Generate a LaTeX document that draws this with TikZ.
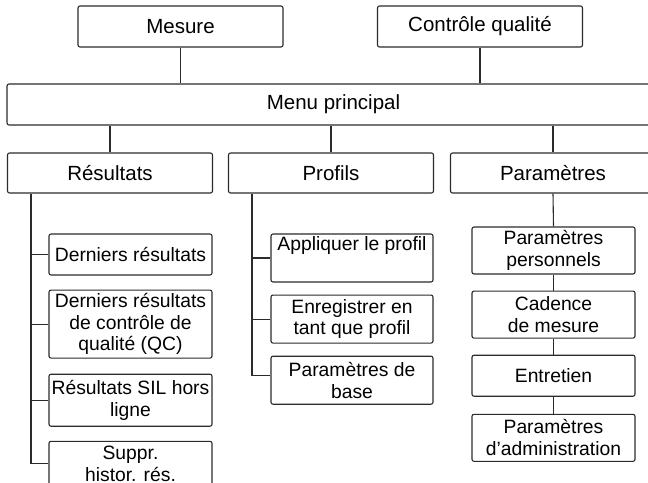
\documentclass[tikz,border=0pt]{standalone}
\usepackage{fontspec}
\setmainfont{Liberation Sans}
\usetikzlibrary{positioning}
\definecolor{edge}{HTML}{2B2B2B}

\begin{document}
\begin{tikzpicture}[
  x=1pt, y=-1pt,
  lvl/.style={draw=edge, line width=1.1pt, rounded corners=2pt, minimum height=41pt, minimum width=205pt, align=center, inner sep=1pt, font=\fontsize{20.5}{23}\selectfont},
  sub/.style={draw=edge, line width=1.1pt, rounded corners=2pt, minimum width=163pt, align=center, inner sep=1pt, font=\fontsize{19.3}{21.7}\selectfont},
  link/.style={draw=edge, line width=1.1pt}
]
\useasboundingbox (0,0) rectangle (648,482);
\clip (0,0) rectangle (648,482);
% top row and main menu
\node[lvl] (mes) at (180.5,26.5) {Mesure};
\node[lvl] (qc) at (480,26.5) {Contrôle qualité};
\node[lvl, minimum width=653pt] (menu) at (333.5,104.5) {Menu principal};
\node[lvl, minimum height=40pt] (res) at (110,173) {Résultats};
\node[lvl, minimum height=40pt] (prof) at (331,173) {Profils};
\node[lvl, minimum height=40pt] (par) at (553,173) {Paramètres};
% results column
\node[sub, minimum height=41pt] (r1) at (130.5,254.5) {Derniers résultats};
\node[sub, minimum height=68pt, below=14pt of r1] (r2) {Derniers résultats\\de contrôle de\\qualité (QC)};
\node[sub, minimum height=52pt, below=15pt of r2] (r3) {Résultats SIL hors\\ligne};
\node[sub, minimum height=45pt, below=14pt of r3] (r4) {Suppr.\\histor. rés.};
% profiles column
\node[sub, minimum width=162pt, minimum height=48pt] (p1) at (352,258) {Appliquer le profil\\\strut};
\node[sub, minimum width=162pt, minimum height=48pt, below=12pt of p1] (p2) {Enregistrer en\\tant que profil};
\node[sub, minimum width=162pt, minimum height=48pt, below=12pt of p2] (p3) {Paramètres de\\base};
% settings column
\node[sub, minimum height=47pt] (s1) at (553.5,250.5) {Paramètres\\personnels};
\node[sub, minimum height=47pt, below=16pt of s1] (s2) {Cadence\\de mesure};
\node[sub, minimum height=41pt, below=16pt of s2] (s3) {Entretien};
\node[sub, minimum height=47pt, below=17pt of s3] (s4) {Paramètres\\d’administration};
% connectors
\draw[link] (mes.south) -- (mes.south |- menu.north);
\draw[link] (qc.south) -- (qc.south |- menu.north);
\foreach \n in {res,prof,par}
  \draw[link] (\n.north |- menu.south) -- (\n.north);
\coordinate (rtrunk) at ([xshift=24pt]res.south west);
\draw[link] (rtrunk) |- (r4.west);
\foreach \n in {r1,r2,r3}
  \draw[link] (\n.west -| rtrunk) -- (\n.west);
\coordinate (ptrunk) at ([xshift=24pt]prof.south west);
\draw[link] (ptrunk) |- ([yshift=5pt]p3.west);
\foreach \n in {p1,p2}
  \draw[link] (\n.west -| ptrunk) -- (\n.west);
\foreach \a/\b in {par/s1,s1/s2,s2/s3,s3/s4}
  \draw[link] (\a.south) -- (\b.north);
\end{tikzpicture}
\end{document}
